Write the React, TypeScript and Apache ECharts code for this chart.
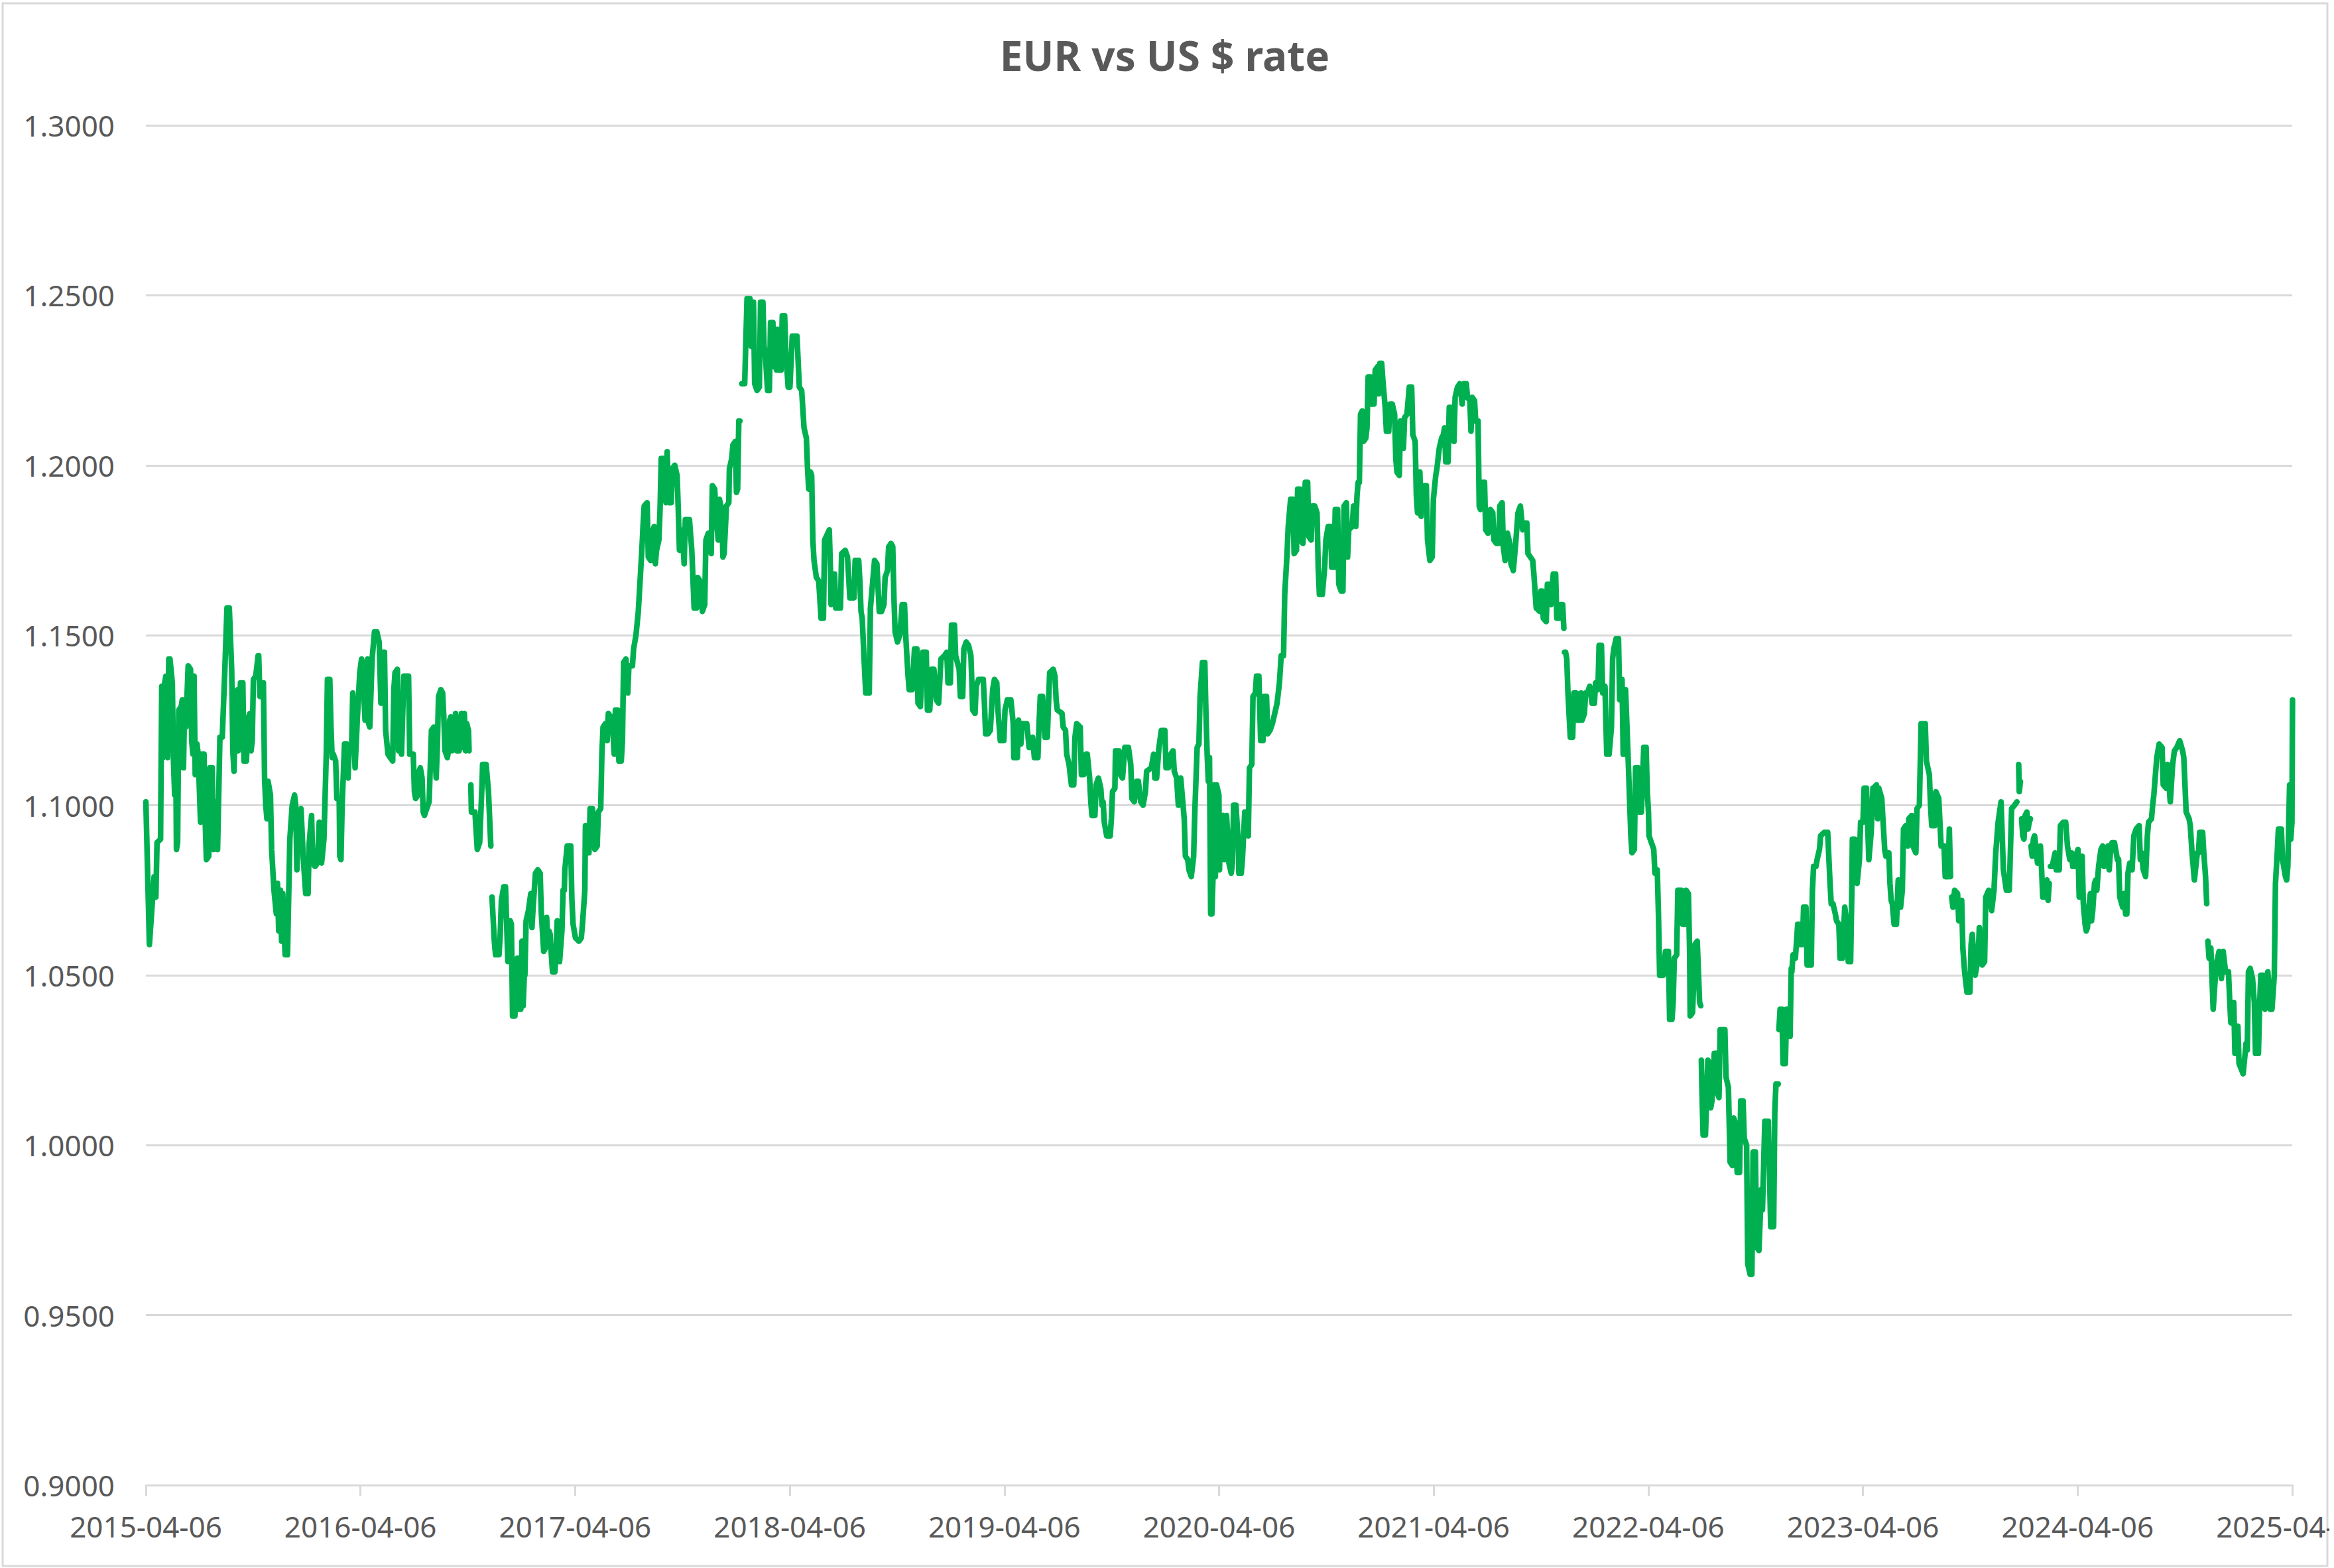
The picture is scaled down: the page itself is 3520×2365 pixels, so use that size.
import React, { useEffect, useRef } from "react";
import * as echarts from "echarts";

// Time coordinate of every point = days since START_DATE
const START_DATE = "2015-04-06";
const TITLE = "EUR vs US $ rate";
const X_TICK_LABELS = [
  "2015-04-06", "2016-04-06", "2017-04-06", "2018-04-06", "2019-04-06", "2020-04-06",
  "2021-04-06", "2022-04-06", "2023-04-06", "2024-04-06", "2025-04-06",
];
const Y_MIN = 0.9;
const Y_MAX = 1.3;
const Y_STEP = 0.05;

// [days since 2015-04-06, EUR/USD rate]; each array is an unbroken run of data
const run2015to2016: [number, number][] = [
  [0,1.101],[6,1.059],[14,1.079],[17,1.073],[19,1.089],[25,1.090],[27,1.135],[29,1.114],[31,1.135],[34,1.138],[37,1.114],[39,1.143],[41,1.143],[45,1.136],[47,1.113],[49,1.103],[51,1.113],[52,1.087],[54,1.089],[56,1.128],[60,1.129],[62,1.131],[64,1.111],[66,1.131],[68,1.123],[72,1.141],[76,1.140],[78,1.119],[80,1.115],[82,1.138],[84,1.109],[87,1.118],[89,1.115],[93,1.095],[95,1.115],[99,1.115],[101,1.095],[103,1.084],[107,1.085],[109,1.111],[113,1.111],[115,1.087],[117,1.101],[121,1.087],[122,1.087],[126,1.120],[130,1.120],[134,1.138],[138,1.158],[142,1.158],[146,1.140],[148,1.116],[150,1.110],[152,1.127],[156,1.134],[157,1.116],[161,1.136],[165,1.136],[167,1.113],[171,1.113],[175,1.126],[177,1.127],[179,1.116],[181,1.119],[183,1.137],[187,1.138],[191,1.144],[192,1.144],[194,1.132],[196,1.136],[200,1.136],[202,1.108],[204,1.100],[206,1.096],[208,1.107],[212,1.103],[214,1.087],[218,1.075],[222,1.068],[224,1.077],[226,1.063],[229,1.075],[231,1.060],[233,1.074],[237,1.056],[241,1.056],[245,1.090],[249,1.100],[253,1.103],[255,1.100],[257,1.081],[260,1.098],[264,1.099],[268,1.084],[272,1.074],[276,1.074],[278,1.089],[282,1.097],[284,1.083],[288,1.082],[292,1.083],[295,1.095],[299,1.083],[303,1.090],[307,1.115],[309,1.137],[313,1.137],[315,1.123],[317,1.114],[319,1.115],[323,1.113],[325,1.102],[329,1.102],[330,1.085],[332,1.084],[334,1.100],[338,1.118],[342,1.118],[344,1.108],[346,1.116],[350,1.116],[352,1.133],[354,1.124],[356,1.111],[360,1.126],[364,1.139],[367,1.143],[369,1.139],[373,1.125],[377,1.143],[379,1.124],[381,1.123],[385,1.143],[389,1.151],[393,1.151],[397,1.148],[399,1.136],[400,1.130],[404,1.145],[406,1.145],[408,1.122],[412,1.115],[416,1.114],[420,1.113],[422,1.134],[424,1.139],[428,1.140],[430,1.116],[432,1.132],[435,1.115],[439,1.138],[447,1.138],[449,1.115],[455,1.115],[457,1.104],[459,1.102],[463,1.103],[465,1.110],[467,1.111],[470,1.108],[472,1.098],[474,1.097],[482,1.101],[486,1.122],[490,1.123],[494,1.108],[496,1.117],[498,1.132],[502,1.134],[505,1.133],[507,1.126],[509,1.116],[513,1.114],[515,1.116],[517,1.125],[519,1.126],[521,1.116],[525,1.124],[527,1.127],[529,1.116],[533,1.116],[537,1.127],[538,1.117],[540,1.126],[542,1.127],[544,1.116],[546,1.124],[549,1.122],[550,1.116],
];

const runOct2016: [number, number][] = [
  [553,1.106],[554,1.098],[560,1.098],[564,1.087],[568,1.089],[572,1.106],[573,1.112],[579,1.112],[583,1.104],[587,1.088],
];

const run2016to2018: [number, number][] = [
  [589,1.073],[593,1.060],[595,1.056],[601,1.056],[603,1.062],[605,1.072],[609,1.076],[612,1.076],[614,1.065],[616,1.054],[620,1.066],[622,1.065],[624,1.038],[628,1.038],[630,1.047],[632,1.055],[634,1.040],[638,1.040],[640,1.060],[642,1.041],[644,1.050],[645,1.050],[647,1.066],[651,1.069],[655,1.074],[657,1.064],[659,1.070],[663,1.080],[667,1.081],[671,1.080],[673,1.068],[677,1.057],[680,1.058],[682,1.067],[684,1.059],[686,1.063],[688,1.062],[690,1.056],[692,1.051],[696,1.051],[698,1.056],[700,1.066],[702,1.065],[704,1.054],[708,1.063],[710,1.075],[712,1.075],[713,1.081],[717,1.088],[723,1.088],[725,1.072],[727,1.065],[731,1.061],[737,1.060],[741,1.061],[743,1.065],[747,1.075],[748,1.094],[752,1.094],[754,1.086],[756,1.099],[760,1.099],[764,1.087],[768,1.088],[770,1.098],[774,1.099],[776,1.115],[778,1.123],[782,1.124],[785,1.119],[787,1.127],[791,1.126],[795,1.121],[797,1.115],[799,1.128],[803,1.128],[805,1.113],[809,1.113],[811,1.119],[813,1.142],[817,1.143],[820,1.133],[822,1.141],[828,1.141],[830,1.146],[834,1.150],[838,1.157],[840,1.163],[844,1.175],[846,1.182],[848,1.188],[853,1.189],[855,1.173],[859,1.172],[861,1.180],[865,1.182],[867,1.171],[869,1.175],[873,1.178],[875,1.187],[877,1.202],[883,1.202],[885,1.189],[887,1.204],[890,1.189],[894,1.189],[896,1.199],[900,1.200],[904,1.197],[906,1.187],[908,1.175],[910,1.181],[914,1.177],[916,1.171],[918,1.184],[925,1.184],[929,1.175],[933,1.158],[937,1.158],[939,1.167],[943,1.166],[947,1.157],[951,1.159],[953,1.178],[957,1.180],[960,1.179],[962,1.174],[964,1.194],[968,1.193],[970,1.186],[974,1.178],[976,1.190],[980,1.187],[982,1.173],[984,1.174],[986,1.181],[988,1.188],[992,1.189],[993,1.199],[997,1.202],[999,1.206],[1003,1.207],[1005,1.192],[1007,1.193],[1009,1.213],[1011,1.213],
];

const run2018to2021: [number, number][] = [
  [1014,1.224],[1019,1.224],[1023,1.249],[1028,1.249],[1030,1.235],[1032,1.248],[1034,1.248],[1036,1.224],[1040,1.222],[1044,1.223],[1046,1.248],[1050,1.248],[1052,1.235],[1054,1.233],[1058,1.222],[1061,1.222],[1063,1.242],[1067,1.242],[1069,1.229],[1071,1.240],[1073,1.228],[1075,1.240],[1077,1.228],[1081,1.228],[1083,1.244],[1087,1.244],[1089,1.233],[1093,1.223],[1096,1.223],[1100,1.238],[1108,1.238],[1112,1.223],[1116,1.222],[1120,1.211],[1124,1.208],[1126,1.199],[1128,1.193],[1131,1.198],[1133,1.197],[1135,1.178],[1137,1.172],[1141,1.167],[1145,1.166],[1149,1.155],[1153,1.155],[1155,1.178],[1163,1.181],[1165,1.169],[1166,1.159],[1170,1.163],[1172,1.168],[1174,1.158],
  [1176,1.158],[1182,1.158],[1184,1.174],[1190,1.175],[1194,1.173],[1196,1.167],[1198,1.161],[1205,1.161],[1207,1.172],[1213,1.172],[1215,1.166],[1217,1.157],[1219,1.155],[1223,1.140],[1225,1.133],[1231,1.133],[1233,1.158],[1236,1.164],[1240,1.172],[1244,1.171],[1246,1.164],[1248,1.157],[1252,1.157],[1256,1.159],[1258,1.167],[1262,1.169],[1264,1.176],[1268,1.177],[1271,1.176],[1273,1.161],[1275,1.151],[1279,1.148],[1283,1.150],[1287,1.159],[1291,1.159],[1293,1.150],[1297,1.138],[1299,1.134],[1304,1.134],[1308,1.146],[1312,1.146],[1314,1.130],[1318,1.129],[1322,1.145],[1328,1.145],[1330,1.128],[1334,1.128],[1337,1.140],[1341,1.140],[1345,1.131],[1349,1.130],[1353,1.143],[1359,1.144],[1363,1.145],[1365,1.136],[1369,1.136],[1371,1.153],[1376,1.153],[1378,1.144],[1384,1.140],[1386,1.132],[1390,1.132],[1392,1.146],[1396,1.148],[1400,1.147],[1404,1.144],[1406,1.134],[1407,1.128],[1411,1.127],[1413,1.135],[1417,1.137],[1425,1.137],[1427,1.130],[1429,1.121],[1433,1.121],[1437,1.122],[1441,1.134],[1444,1.137],[1448,1.136],[1450,1.128],[1454,1.119],[1460,1.119],[1462,1.128],[1466,1.131],[1472,1.131],[1476,1.124],[1477,1.114],[1483,1.114],[1485,1.125],[1489,1.118],[1491,1.124],[1499,1.124],[1503,1.117],[1507,1.117],[1509,1.120],[1512,1.114],[1518,1.114],[1520,1.124],[1522,1.132],[1526,1.132],[1530,1.120],[1534,1.120],[1538,1.139],[1544,1.140],[1547,1.138],[1549,1.131],[1551,1.128],[1559,1.127],[1561,1.123],[1565,1.122],[1567,1.115],[1571,1.112],[1575,1.106],[1579,1.106],[1581,1.120],[1584,1.124],[1590,1.123],[1592,1.109],[1596,1.109],[1600,1.115],[1602,1.115],[1606,1.108],[1608,1.101],[1610,1.097],[1615,1.097],[1617,1.106],[1621,1.108],[1625,1.105],[1627,1.100],[1629,1.101],[1631,1.095],[1635,1.091],[1641,1.091],[1643,1.096],[1645,1.104],[1649,1.105],[1650,1.116],[1656,1.116],[1658,1.109],[1662,1.108],[1666,1.117],[1672,1.117],[1676,1.112],[1678,1.102],[1682,1.101],[1686,1.107],[1689,1.107],[1693,1.101],[1697,1.100],[1701,1.104],[1703,1.110],[1711,1.111],[1715,1.115],[1717,1.108],[1720,1.108],[1724,1.117],[1728,1.122],[1734,1.122],[1736,1.111],[1740,1.111],[1744,1.115],[1748,1.116],[1750,1.110],[1754,1.108],[1757,1.100],[1759,1.102],[1761,1.108],
  [1767,1.096],[1769,1.085],[1773,1.084],[1775,1.081],[1779,1.079],[1783,1.085],[1785,1.098],[1789,1.117],[1792,1.118],[1794,1.132],[1798,1.142],[1802,1.142],[1804,1.127],[1806,1.115],[1808,1.107],[1810,1.114],[1812,1.068],[1814,1.068],[1816,1.079],[1818,1.106],[1820,1.079],[1822,1.106],[1826,1.103],[1827,1.081],[1829,1.095],[1833,1.097],[1835,1.084],[1839,1.097],[1841,1.091],[1843,1.083],[1847,1.080],[1849,1.083],[1851,1.100],[1855,1.100],[1859,1.089],[1860,1.080],[1864,1.080],[1866,1.084],[1870,1.098],[1872,1.098],[1876,1.091],[1878,1.111],[1882,1.112],[1884,1.132],[1888,1.133],[1890,1.138],[1894,1.138],[1897,1.119],[1901,1.119],[1903,1.132],[1907,1.132],[1909,1.121],[1913,1.122],[1917,1.124],[1925,1.130],[1929,1.136],[1932,1.144],[1936,1.144],[1938,1.162],[1942,1.174],[1944,1.182],[1948,1.190],[1952,1.190],[1954,1.174],[1958,1.175],[1960,1.193],[1964,1.193],[1965,1.178],[1969,1.177],[1973,1.195],[1977,1.195],[1979,1.179],[1983,1.178],[1985,1.188],[1989,1.188],[1993,1.186],[1995,1.170],[1997,1.162],[2002,1.162],[2006,1.170],[2008,1.178],[2012,1.182],[2016,1.182],[2018,1.170],[2022,1.170],[2024,1.187],[2028,1.187],[2030,1.165],[2034,1.163],[2037,1.163],[2039,1.188],[2043,1.189],[2045,1.173],[2047,1.181],[2053,1.182],[2055,1.188],[2059,1.182],[2061,1.191],[2063,1.195],[2065,1.195],[2067,1.215],[2070,1.216],[2072,1.207],[2076,1.208],[2078,1.211],[2080,1.226],[2084,1.226],[2086,1.218],[2090,1.218],[2092,1.228],[2096,1.229],[2098,1.221],[2100,1.230],[2103,1.230],[2105,1.225],[2109,1.217],[2111,1.210],[2115,1.210],[2117,1.218],[2121,1.218],[2125,1.215],[2127,1.202],[2129,1.198],[2133,1.197],[2135,1.213],[2138,1.213],[2140,1.205],[2142,1.214],[2146,1.215],[2150,1.223],[2154,1.223],[2156,1.209],[2160,1.207],[2162,1.191],[2164,1.186],[2166,1.198],[2168,1.198],[2170,1.185],[2173,1.194],[2179,1.194],[2181,1.178],[2185,1.172],[2189,1.173],[2191,1.190],[2195,1.197],[2197,1.199],[2201,1.205],[2205,1.208],[2208,1.209],[2210,1.211],[2212,1.201],[2216,1.201],[2218,1.217],[2222,1.217],[2226,1.207],[2228,1.220],[2232,1.223],[2236,1.224],[2240,1.218],[2243,1.224],[2247,1.224],[2249,1.220],[2253,1.219],[2255,1.210],[2257,1.220],[2261,1.219],[2263,1.213],[2267,1.213],[2269,1.188],[2271,1.187],[2275,1.195],[2278,1.195],[2280,1.181],[2284,1.180],[2288,1.187],[2292,1.186],[2294,1.178],[2298,1.177],[2302,1.177],[2304,1.188],[2308,1.189],[2310,1.176],[2313,1.172],[2317,1.180],[2321,1.177],[2323,1.171],[2327,1.169],[2331,1.177],[2335,1.186],[2339,1.188],[2343,1.181],[2346,1.183],[2350,1.183],[2352,1.174],[2356,1.173],[2360,1.172],[2362,1.168],[2366,1.158],
  [2372,1.157],[2374,1.163],[2376,1.163],[2378,1.155],[2383,1.154],[2385,1.165],[2387,1.165],[2391,1.159],[2395,1.168],[2399,1.168],[2401,1.155],[2405,1.155],[2407,1.159],[2411,1.159],[2413,1.152],
];

const run2021to2022: [number, number][] = [
  [2414,1.145],[2416,1.145],[2418,1.143],[2420,1.133],[2424,1.120],[2428,1.120],[2430,1.133],[2434,1.133],[2436,1.125],[2440,1.125],[2442,1.133],[2444,1.125],[2448,1.127],[2450,1.133],[2453,1.133],[2457,1.135],[2461,1.130],[2465,1.130],[2467,1.136],[2471,1.134],[2473,1.147],[2477,1.147],[2479,1.133],[2483,1.135],[2486,1.115],[2490,1.115],[2494,1.123],[2496,1.143],[2498,1.146],[2502,1.149],[2506,1.149],[2508,1.131],[2512,1.137],[2514,1.115],[2516,1.115],[2518,1.134],[2520,1.125],[2523,1.111],[2527,1.091],[2529,1.086],[2533,1.087],[2535,1.111],[2539,1.111],[2541,1.098],[2545,1.098],[2549,1.117],[2553,1.117],[2555,1.104],[2557,1.098],[2558,1.091],[2566,1.087],[2568,1.080],[2572,1.081],[2574,1.068],[2576,1.050],[2582,1.050],[2586,1.057],[2591,1.057],[2593,1.037],[2597,1.037],[2599,1.042],[2601,1.055],[2605,1.056],[2607,1.075],[2613,1.075],[2615,1.065],[2619,1.065],[2621,1.075],[2625,1.074],[2627,1.057],[2628,1.038],[2632,1.039],[2634,1.048],[2636,1.059],[2640,1.060],[2644,1.042],[2646,1.041],
];

const runSummer2022: [number, number][] = [
  [2647,1.025],[2648,1.016],[2650,1.003],[2654,1.003],[2658,1.025],[2661,1.024],[2663,1.011],[2665,1.013],[2669,1.027],[2673,1.027],[2675,1.015],[2677,1.014],[2679,1.034],[2687,1.034],[2689,1.020],[2693,1.017],[2696,0.995],[2700,0.994],[2702,1.008],[2704,1.007],[2708,0.992],[2712,0.992],[2714,1.013],[2718,1.013],[2720,1.002],[2724,1.000],[2726,0.965],[2730,0.962],[2733,0.962],[2735,0.998],[2739,0.998],[2741,0.970],[2745,0.969],[2749,0.987],[2751,0.981],[2755,1.007],[2761,1.007],[2765,0.976],[2770,0.976],[2772,1.010],[2774,1.018],[2778,1.018],
];

const run2022to2023: [number, number][] = [
  [2779,1.034],[2781,1.040],[2784,1.040],[2786,1.024],[2790,1.024],[2792,1.040],[2796,1.040],[2798,1.032],[2800,1.052],[2801,1.051],[2803,1.056],[2807,1.055],[2811,1.065],[2813,1.065],[2815,1.059],[2819,1.059],[2821,1.070],[2825,1.070],[2827,1.053],[2834,1.053],[2836,1.075],[2838,1.082],[2842,1.082],[2844,1.084],[2848,1.087],[2850,1.091],[2856,1.092],[2862,1.092],[2866,1.077],[2868,1.071],[2871,1.071],[2875,1.068],[2877,1.066],[2881,1.065],[2883,1.055],[2887,1.055],[2891,1.070],[2895,1.065],[2897,1.054],[2901,1.054],[2903,1.074],[2904,1.090],[2908,1.090],[2912,1.077],[2916,1.084],[2918,1.095],[2922,1.095],[2924,1.105],[2928,1.105],[2932,1.084],[2936,1.092],[2939,1.105],
  [2940,1.105],[2945,1.106],[2947,1.096],[2949,1.105],[2954,1.102],[2956,1.096],[2959,1.087],[2961,1.085],[2966,1.086],[2968,1.077],[2970,1.072],[2972,1.071],[2975,1.065],[2979,1.065],[2982,1.078],[2986,1.070],[2989,1.075],[2991,1.093],[2995,1.094],[2998,1.088],[3000,1.096],[3005,1.097],[3007,1.088],[3012,1.086],[3014,1.099],[3018,1.100],[3021,1.124],[3028,1.124],[3030,1.113],[3035,1.109],[3037,1.100],[3039,1.094],[3044,1.094],[3046,1.104],[3051,1.102],[3053,1.095],[3055,1.088],[3060,1.088],[3062,1.079],[3067,1.079],[3069,1.093],[3071,1.079],
];

const runAutumn2023: [number, number][] = [
  [3073,1.073],[3075,1.070],[3078,1.075],[3083,1.074],[3085,1.066],[3090,1.072],[3092,1.058],[3095,1.051],[3099,1.045],[3104,1.045],[3106,1.059],[3108,1.062],[3113,1.050],[3118,1.055],[3120,1.064],[3125,1.053],[3129,1.054],[3131,1.073],[3136,1.075],[3141,1.069],[3145,1.075],[3148,1.086],[3152,1.095],[3157,1.101],[3161,1.081],[3166,1.075],[3171,1.075],[3175,1.099],[3180,1.100],[3184,1.101],
];

const runEnd2023: [number, number][] = [[3187,1.112],[3188,1.104],[3190,1.107]];

const runJan2024: [number, number][] = [
  [3192,1.096],[3194,1.091],[3196,1.090],[3198,1.097],[3201,1.098],[3203,1.093],[3205,1.095],[3207,1.096],
];

const runFeb2024: [number, number][] = [
  [3208,1.088],[3210,1.085],[3212,1.090],[3214,1.091],[3217,1.087],[3219,1.083],[3221,1.087],[3224,1.088],[3226,1.081],[3228,1.073],[3233,1.073],[3235,1.078],[3237,1.072],[3239,1.077],
];

const run2024: [number, number][] = [
  [3241,1.082],[3244,1.082],[3249,1.086],[3251,1.081],[3256,1.081],[3258,1.094],[3263,1.095],[3267,1.095],[3270,1.088],[3274,1.084],[3277,1.086],[3279,1.082],[3283,1.082],[3286,1.086],[3288,1.087],[3290,1.073],[3293,1.082],[3295,1.085],[3297,1.071],[3300,1.065],[3302,1.063],[3304,1.064],[3307,1.071],[3309,1.074],[3311,1.066],[3313,1.069],[3316,1.077],[3318,1.078],[3320,1.075],[3323,1.082],[3327,1.087],[3330,1.088],[3332,1.082],[3336,1.087],[3339,1.088],[3341,1.081],[3343,1.086],[3346,1.089],[3350,1.089],[3355,1.084],[3357,1.084],[3359,1.073],[3364,1.070],[3366,1.074],[3369,1.068],[3371,1.068],[3373,1.080],[3376,1.083],[3380,1.081],[3383,1.091],[3387,1.093],[3392,1.094],[3394,1.084],[3396,1.086],[3399,1.081],[3403,1.079],[3406,1.091],[3408,1.095],[3413,1.096],[3415,1.100],[3417,1.103],[3422,1.114],[3426,1.118],[3431,1.117],[3433,1.106],[3438,1.105],[3440,1.112],[3445,1.101],[3449,1.112],[3452,1.116],[3456,1.117],[3461,1.119],[3466,1.116],[3468,1.114],[3470,1.106],[3472,1.098],[3477,1.096],[3479,1.094],[3482,1.086],[3486,1.078],[3491,1.086],[3493,1.086],[3495,1.092],[3500,1.092],[3502,1.086],[3505,1.079],[3507,1.071],
];

const run2024to2025: [number, number][] = [
  [3509,1.060],[3511,1.055],[3514,1.058],[3518,1.040],[3523,1.053],[3528,1.057],[3532,1.049],[3535,1.057],[3539,1.051],[3544,1.051],[3546,1.043],[3548,1.036],[3553,1.042],[3555,1.027],[3560,1.035],[3562,1.024],[3569,1.021],[3574,1.030],[3576,1.028],[3578,1.051],[3581,1.052],[3585,1.049],[3588,1.042],[3590,1.027],[3595,1.027],[3597,1.041],[3599,1.050],[3604,1.050],[3606,1.040],[3611,1.051],[3615,1.040],[3618,1.040],[3622,1.050],[3624,1.077],[3627,1.086],[3629,1.093],[3634,1.093],[3636,1.084],[3641,1.079],[3643,1.078],[3645,1.082],[3648,1.106],[3650,1.090],[3652,1.095],[3653,1.131],
];

const RUNS = [
  run2015to2016, runOct2016, run2016to2018, run2018to2021, run2021to2022, runSummer2022,
  run2022to2023, runAutumn2023, runEnd2023, runJan2024, runFeb2024, run2024, run2024to2025,
];

const DAYS_PER_YEAR = 365.25;
const FONT = "'Noto Sans', 'Open Sans', sans-serif";
const TEXT = "#595959";
const GRID_COLOR = "#d9d9d9";

export default function App() {
  const ref = useRef<HTMLDivElement>(null);

  useEffect(() => {
    document.body.style.margin = "0";
    if (!ref.current) return;
    const chart = echarts.init(ref.current, null, { renderer: "svg" });

    const lineData: any[] = [];
    RUNS.forEach((run, i) => {
      if (i > 0) {
        const prev = RUNS[i - 1];
        const gap = (prev[prev.length - 1][0] + run[0][0]) / 2;
        lineData.push([gap / DAYS_PER_YEAR, "-"]);
      }
      run.forEach(([d, v]) => lineData.push([d / DAYS_PER_YEAR, v]));
    });

    chart.setOption({
      animation: false,
      backgroundColor: "#ffffff",
      title: {
        text: TITLE,
        left: "center",
        top: 47,
        textStyle: { fontFamily: FONT, fontSize: 62, fontWeight: "bold", color: TEXT },
      },
      graphic: [
        {
          type: "rect",
          silent: true,
          shape: { x: 4, y: 5, width: 3506, height: 2357 },
          style: { fill: "none", stroke: GRID_COLOR, lineWidth: 3 },
        },
      ],
      grid: {
        left: 220,
        right: 56,
        top: 189,
        bottom: 125,
        containLabel: false,
        outerBoundsMode: "none",
      },
      xAxis: {
        type: "value",
        min: 0,
        max: X_TICK_LABELS.length - 1,
        interval: 1,
        axisLine: { show: true, lineStyle: { color: GRID_COLOR, width: 3 } },
        axisTick: { show: true, length: 16, lineStyle: { color: GRID_COLOR, width: 3 } },
        splitLine: { show: false },
        axisLabel: {
          show: true,
          showMinLabel: true,
          showMaxLabel: true,
          margin: 40,
          color: TEXT,
          fontFamily: FONT,
          fontSize: 44,
          formatter: (v: number) => X_TICK_LABELS[Math.round(v)] ?? "",
        },
      },
      yAxis: {
        type: "value",
        min: Y_MIN,
        max: Y_MAX,
        interval: Y_STEP,
        axisLine: { show: false },
        axisTick: { show: false },
        splitLine: { show: true, lineStyle: { color: GRID_COLOR, width: 3 } },
        axisLabel: {
          margin: 47,
          color: TEXT,
          fontFamily: FONT,
          fontSize: 44,
          formatter: (v: number) => v.toFixed(4),
        },
      },
      series: [
        {
          name: `EUR/USD since ${START_DATE}`,
          type: "line",
          data: lineData,
          showSymbol: false,
          symbol: "none",
          connectNulls: false,
          lineStyle: { color: "#00b050", width: 8.5, cap: "round", join: "round" },
          itemStyle: { color: "#00b050" },
          z: 3,
        },
      ],
    });

    return () => chart.dispose();
  }, []);

  return <div ref={ref} style={{ width: 3513, height: 2365, overflow: "hidden" }} />;
}
